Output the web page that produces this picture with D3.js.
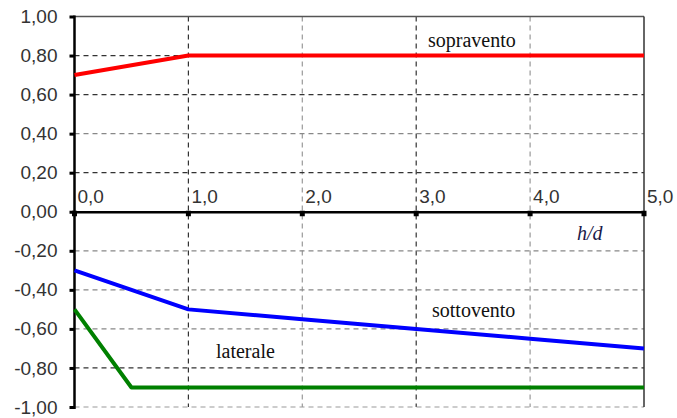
<!DOCTYPE html>
<html><head><meta charset="utf-8">
<script src="https://cdn.jsdelivr.net/npm/d3@7"></script>
<style>body{margin:0;background:#fff}svg{display:block}</style>
</head><body>
<svg id="c" width="677" height="418"></svg>
<script>
const xTicks = [0,1,2,3,4,5];
const xTickLabels = ["0,0","1,0","2,0","3,0","4,0","5,0"];
const yTicks = [1,0.8,0.6,0.4,0.2,0,-0.2,-0.4,-0.6,-0.8,-1];
const yTickLabels = ["1,00","0,80","0,60","0,40","0,20","0,00","-0,20","-0,40","-0,60","-0,80","-1,00"];
const sopraventoX = [0,1,5];
const sopraventoY = [0.7,0.8,0.8];
const sottoventoX = [0,1,2,3,4,5];
const sottoventoY = [-0.3,-0.5,-0.55,-0.6,-0.65,-0.7];
const lateraleX = [0,0.5,5];
const lateraleY = [-0.5,-0.9,-0.9];
const seriesNames = ["sopravento","sottovento","laterale"];

const svg = d3.select("#c");
const x = d3.scaleLinear().domain([0,5]).range([74.5,644]);
const y = d3.scaleLinear().domain([-1,1]).range([407,16.5]);

// grid
const g = svg.append("g");
xTicks.filter(d=>d>0&&d<5).forEach(d=>{
  g.append("line").attr("x1",x(d)).attr("x2",x(d)).attr("y1",y(1)).attr("y2",y(-1))
   .attr("stroke", d%2===1?"#333":"#999").attr("stroke-width",1.2).attr("stroke-dasharray","5,4");
});
yTicks.filter(d=>d!==0&&d!==1).forEach(d=>{
  const dark = [0.8,0.6,0.2,-0.8].some(v=>Math.abs(v-d)<1e-9);
  g.append("line").attr("x1",x(0)).attr("x2",x(5)).attr("y1",y(d)).attr("y2",y(d))
   .attr("stroke", d===-1?"#999":(dark?"#333":"#888")).attr("stroke-width",1.2).attr("stroke-dasharray","5,4");
});
// border top & right
g.append("line").attr("x1",x(0)).attr("x2",x(5)).attr("y1",y(1)).attr("y2",y(1)).attr("stroke","#555").attr("stroke-width",1.5);
g.append("line").attr("x1",x(5)).attr("x2",x(5)).attr("y1",y(1)).attr("y2",y(-1)).attr("stroke","#333").attr("stroke-width",1.5);

// y axis
const yAxis = d3.axisLeft(y).tickValues(yTicks).tickSize(5).tickFormat((d,i)=>yTickLabels[i]);
const ya = svg.append("g").attr("transform",`translate(${x(0)},0)`).call(yAxis);
ya.select(".domain").attr("stroke","#000").attr("stroke-width",2.5).attr("d",`M0,${y(1)-1}V${y(-1)+2}`);
ya.selectAll(".tick line").attr("stroke","#000").attr("stroke-width",3);
ya.selectAll(".tick text").attr("font-family","Liberation Sans, Arial, sans-serif").attr("font-size",19).attr("fill","#333").attr("x",-17);

// x axis at y=0
const xAxis = d3.axisBottom(x).tickValues(xTicks).tickSize(0).tickFormat(()=> "");
const xa = svg.append("g").attr("transform",`translate(0,${y(0)})`).call(xAxis);
xa.select(".domain").attr("stroke","#000").attr("stroke-width",2.5);
xTicks.forEach((d,i)=>{
  svg.append("rect").attr("x",x(d)-2.5).attr("y",y(0)-1).attr("width",5).attr("height",5.5).attr("fill","#000");
  svg.append("text").attr("x",x(d)+3).attr("y",203).text(xTickLabels[i])
    .attr("font-family","Liberation Sans, Arial, sans-serif").attr("font-size",19).attr("fill","#333");
});

// series
const line = d3.line().x(d=>x(d[0])).y(d=>y(d[1]));
const series = [
  {xs:sopraventoX, ys:sopraventoY, color:"#ff0000"},
  {xs:sottoventoX, ys:sottoventoY, color:"#0000ff"},
  {xs:lateraleX, ys:lateraleY, color:"#008000"}
];
series.forEach(s=>{
  svg.append("path").datum(s.xs.map((v,i)=>[v,s.ys[i]])).attr("d",line)
    .attr("fill","none").attr("stroke",s.color).attr("stroke-width",4).attr("stroke-linejoin","round");
});

// labels
const serif = "Liberation Serif, Times New Roman, serif";
svg.append("text").attr("x",428).attr("y",47).text(seriesNames[0]).attr("font-family",serif).attr("font-size",20).attr("fill","#111");
svg.append("text").attr("x",432).attr("y",317).text(seriesNames[1]).attr("font-family",serif).attr("font-size",20).attr("fill","#111");
svg.append("text").attr("x",216).attr("y",358).text(seriesNames[2]).attr("font-family",serif).attr("font-size",20).attr("fill","#111");
svg.append("text").attr("x",577).attr("y",240).attr("font-family",serif).attr("font-size",20).attr("font-style","italic").attr("fill","#1a1a4a")
  .text("h/d");
</script>
</body></html>
